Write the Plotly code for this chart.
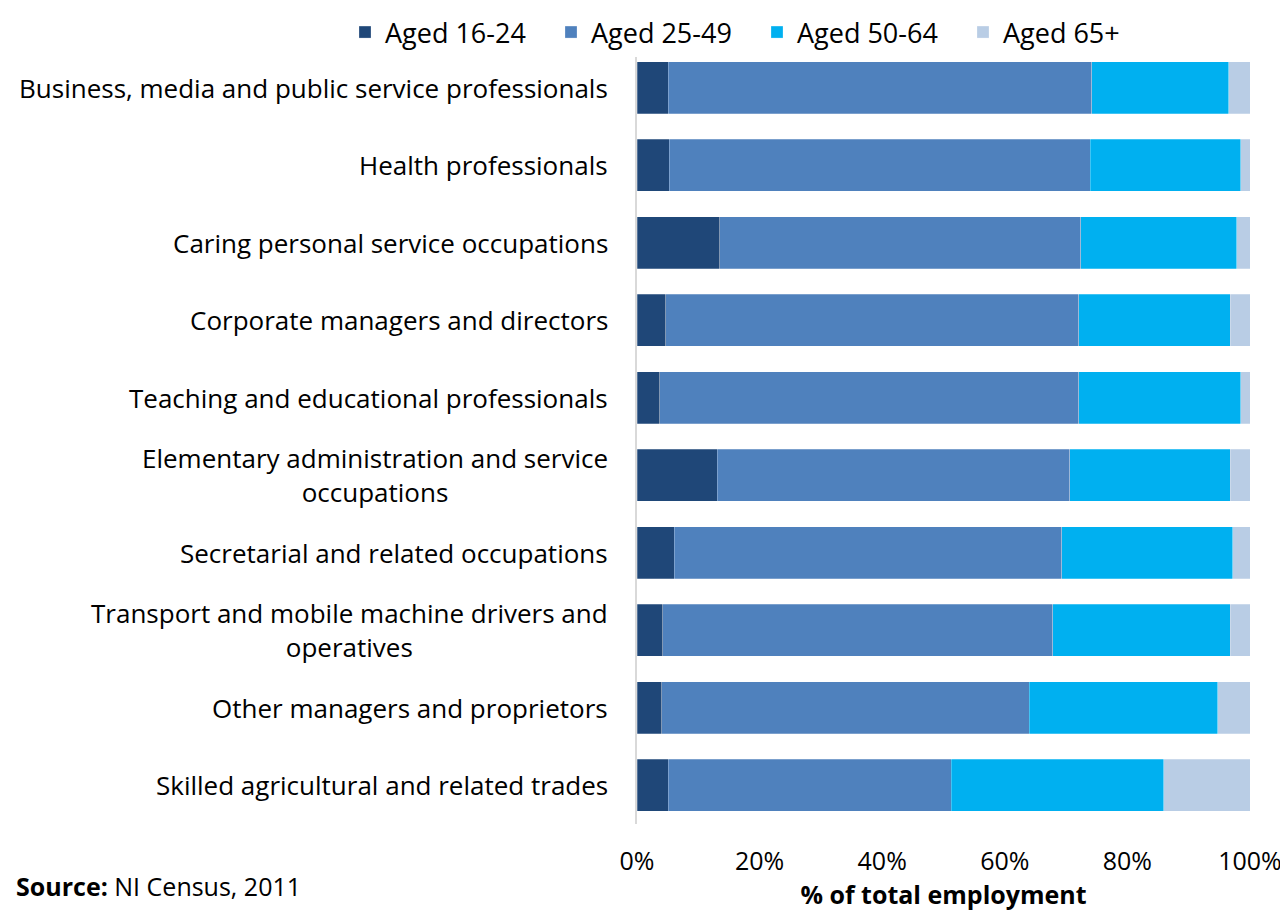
import plotly.graph_objects as go

categories = [
    "Business, media and public service professionals",
    "Health professionals",
    "Caring personal service occupations",
    "Corporate managers and directors",
    "Teaching and educational professionals",
    "Elementary administration and service<br>occupations",
    "Secretarial and related occupations",
    "Transport and mobile machine drivers and<br>operatives",
    "Other managers and proprietors",
    "Skilled agricultural and related trades",
]
aged_16_24 = [5.1, 5.3, 13.5, 4.7, 3.7, 13.1, 6.1, 4.2, 4.0, 5.1]
aged_25_49 = [69.1, 68.6, 58.9, 67.4, 68.4, 57.5, 63.2, 63.6, 60.0, 46.2]
aged_50_64 = [22.3, 24.6, 25.4, 24.7, 26.4, 26.2, 27.9, 29.0, 30.7, 34.6]
aged_65_plus = [3.5, 1.5, 2.2, 3.2, 1.5, 3.2, 2.8, 3.2, 5.3, 14.1]

tick_vals = [0, 20, 40, 60, 80, 100]
tick_text = ["0%", "20%", "40%", "60%", "80%", "100%"]

series = [
    ("Aged 16-24", aged_16_24, "#1F4778"),
    ("Aged 25-49", aged_25_49, "#4F81BD"),
    ("Aged 50-64", aged_50_64, "#00B0F0"),
    ("Aged 65+", aged_65_plus, "#B9CDE5"),
]

FONT = "Open Sans"
W, H = 1280, 906
ML, MR, MT, MB = 629, 38, 41, 90
PW, PH = W - ML - MR, H - MT - MB

fig = go.Figure()
for name, vals, color in series:
    fig.add_trace(go.Bar(
        y=categories, x=vals, name=name, orientation="h",
        marker=dict(color=color, line=dict(color="rgba(255,255,255,0.5)", width=0.5)),
    ))

for cat in categories:
    fig.add_annotation(
        x=0, xref="paper", xanchor="right", xshift=-27,
        y=cat, yref="y", text=cat, showarrow=False, align="center",
        font=dict(family=FONT, size=26, color="#000000"),
    )

fig.add_annotation(
    xref="paper", x=(6 - ML) / PW, xanchor="left",
    yref="paper", y=-(878 - (MT + PH)) / PH, yanchor="middle",
    showarrow=False,
    text="<b>Source:</b> NI Census, 2011",
    font=dict(family=FONT, size=25, color="#000000"),
)

fig.update_layout(
    width=W, height=H,
    barmode="stack", bargap=0.33,
    plot_bgcolor="white", paper_bgcolor="white",
    margin=dict(l=ML, r=MR, t=MT, b=MB, autoexpand=False),
    font=dict(family=FONT, size=25, color="#000000"),
    legend=dict(
        orientation="h", x=(337 - ML) / PW, xanchor="left",
        y=1 + MT / PH, yanchor="top",
        font=dict(family=FONT, size=27), traceorder="normal",
        entrywidth=161,
    ),
    xaxis=dict(
        range=[0, 100], tickvals=tick_vals, ticktext=tick_text,
        showgrid=False, zeroline=False, showline=False,
        tickfont=dict(family=FONT, size=25), ticklabelstandoff=20,
        title=dict(text="<b>% of total employment</b>", font=dict(family=FONT, size=25), standoff=9),
    ),
    yaxis=dict(
        autorange="reversed", showticklabels=False, showgrid=False,
        showline=True, linecolor="#D9D9D9", linewidth=2, zeroline=False,
    ),
)

fig.write_html("out.html")
